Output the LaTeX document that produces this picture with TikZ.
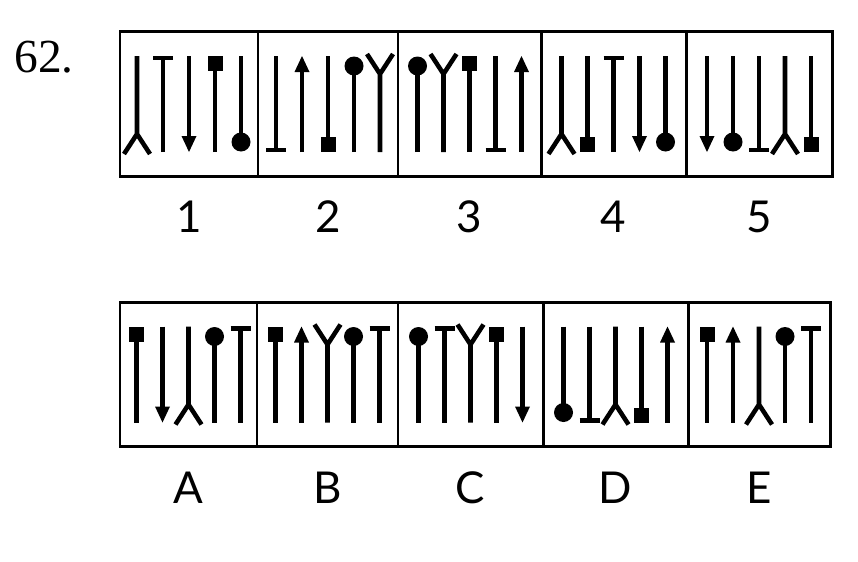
\documentclass[tikz,border=0pt]{standalone}
\usepackage{fontspec}
\setmainfont{Liberation Serif}
\setsansfont{Lato}
\usetikzlibrary{positioning, calc}

\begin{document}
\begin{tikzpicture}[
    x=0.02cm, y=-0.02cm,
    cellbox/.style={rectangle, draw, line width=1.7pt, inner sep=0pt},
    stick/.style={line width=2.6pt},
    lab/.style={font=\sffamily\fontsize{25}{28}\selectfont, inner sep=0pt, text height=18pt, text depth=0pt},
    atop/.style={},
    abot/.style={yscale=-1},
    pics/fork/.style={code={\draw[stick] (0,48)--(0,-30)--(-13,-50) (0,-30)--(13,-50);}},
    pics/tbar/.style={code={\draw[stick] (0,48)--(0,-46) (-10,-46)--(10,-46);}},
    pics/arr/.style={code={\draw[stick] (0,48)--(0,-33); \fill (0,-48)--(-7.5,-32)--(7.5,-32)--cycle;}},
    pics/sq/.style={code={\draw[stick] (0,48)--(0,-34); \fill (-7.5,-48) rectangle (7.5,-33);}},
    pics/dot/.style={code={\draw[stick] (0,48)--(0,-38); \fill (0,-38) circle (9.5);}}
  ]
  \useasboundingbox (0,0) rectangle (858,561);

  \node[font=\rmfamily\fontsize{27}{30}\selectfont, anchor=west, inner sep=0pt] (num) at (14,57) {62.};

  \foreach \nm/\xa/\xb/\cy/\syms in {
      1/120/258/104/{fork/abot,tbar/atop,arr/abot,sq/atop,dot/abot},
      2/258/398/104/{tbar/abot,arr/atop,sq/abot,dot/atop,fork/atop},
      3/398/541/104/{dot/atop,fork/atop,sq/atop,tbar/abot,arr/atop},
      4/541/686/104/{fork/abot,sq/abot,tbar/atop,arr/abot,dot/abot},
      5/686/832/104/{arr/abot,dot/abot,tbar/abot,fork/abot,sq/abot},
      A/120/257/374.5/{sq/atop,arr/abot,fork/abot,dot/atop,tbar/atop},
      B/257/398/374.5/{sq/atop,arr/atop,fork/atop,dot/atop,tbar/atop},
      C/398/543/374.5/{dot/atop,tbar/atop,fork/atop,sq/atop,arr/abot},
      D/543/688/374.5/{dot/abot,tbar/abot,fork/abot,sq/abot,arr/atop},
      E/688/830/374.5/{sq/atop,arr/atop,fork/abot,dot/atop,tbar/atop}} {
    \node[cellbox, minimum width={(\xb-\xa)*0.02cm}, minimum height=2.89cm] (c\nm) at ({(\xa+\xb)/2}, \cy) {};
    \node[lab, below=0.46cm of c\nm] (l\nm) {\nm};
    \foreach \s/\e [count=\i] in \syms
      \pic[\e] at ({(\xa+\xb)/2+(\i-3)*26}, \cy) {\s};
  }
\end{tikzpicture}
\end{document}
